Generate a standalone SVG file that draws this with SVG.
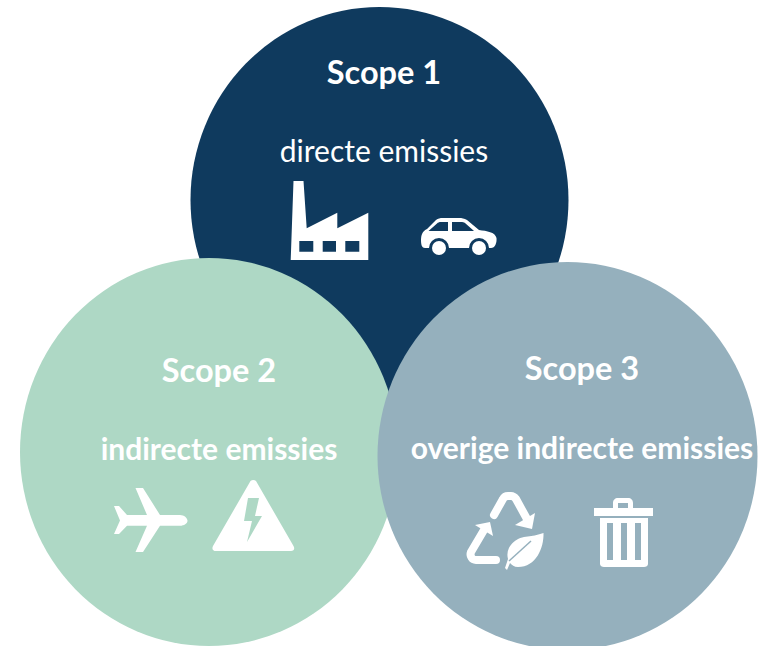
<svg xmlns="http://www.w3.org/2000/svg" width="769" height="646" viewBox="0 0 769 646">
<defs><filter id="soft" x="-10%" y="-10%" width="120%" height="120%"><feGaussianBlur stdDeviation="0.7"/></filter></defs>
<style>
.t{font-family:Lato,"Open Sans","Liberation Sans",sans-serif;fill:#fff;text-anchor:middle}
.h{font-size:32.500px;font-weight:700}
.s{font-size:30px}
.b{font-weight:700;font-size:30px}
.i{fill:#fff}
.l{fill:none;stroke:#fff;stroke-linecap:round;stroke-linejoin:round}
</style>
<rect width="769" height="646" fill="#fff"/>
<g id="scope1">
<ellipse cx="379.500" cy="200" rx="189" ry="193" fill="#0f3a5e"/>
<text class="t h" x="384" y="84">Scope 1</text>
<text class="t s" x="384" y="162">directe emissies</text>
<g filter="url(#soft)">
<path class="i" fill-rule="evenodd" d="M293.500 181H303.500L306.700 228.300L337.300 212.700V228.300L368.300 212.700V260H290.700ZM299.300 241V251.700H313.300V241ZM322.700 241V251.700H336V241ZM345.300 241V251.700H359.300V241Z"/>
<path class="i" fill-rule="evenodd" d="M421 240C421 234 423 231 427 229L436 220C438 218.500 440 218 443 218H459C462 218 464 218.500 467 220L479 230C487 231 495 232 496.500 238C497 243 495 248 491 248H489A10 10 0 0 0 469 248H449A10 10 0 0 0 429 248H425C422 248 421 245 421 240ZM428.500 231H448V222H441C439 222 438 222.500 437 223.500ZM452 222V231H474L465 223C464 222 462.500 222 461 222Z"/>
<circle class="i" cx="439" cy="248" r="7"/>
<circle class="i" cx="479" cy="248" r="7"/>
</g>
</g>
<g id="scope2">
<ellipse cx="209" cy="452" rx="189" ry="194" fill="#aed8c5"/>
<text class="t h" x="219" y="382">Scope 2</text>
<text class="t b" x="219" y="460">indirecte emissies</text>
<g filter="url(#soft)">
<path class="i" d="M187.500 520.700C187.500 523.500 184 525.700 180 525.700H160L143 552H135.500L147 525.700L127 525.700L119 534H114L120 520.500L114 506H119L127 515L147 515L135.500 488H143L160 515H180C184 515 187.500 518 187.500 520.700Z"/>
<path class="i" fill-rule="evenodd" d="M250.500 481C252 479.500 254.500 479.500 256 481L293.500 546C295 549 294 551 291 551H216C213 551 211.500 549 213 546ZM248 498L244 521H252L247 542L262 516H255L259 498Z"/>
</g>
</g>
<g id="scope3">
<ellipse cx="567.500" cy="456" rx="190" ry="194" fill="#95b0bd"/>
<text class="t h" x="582" y="380">Scope 3</text>
<text class="t b" x="582" y="459">overige indirecte emissies</text>
<g filter="url(#soft)">
<path class="l" stroke-width="8" d="M494 515L503 499C504 497 506 496 508 496H511C513 496 514.500 497 516 499L527 519"/>
<path class="i" d="M515 525L535 513L532 529Z"/>
<path class="l" stroke-width="8" d="M484 530L471 552C469.500 556 472 560 476 560H496"/>
<path class="i" d="M475 525L490 522L493 536Z"/>
<path class="i" d="M543.500 533C544 548 536 567 518 567C514 567 512 565 510 563L507 570L505 568L508 559C505 548 514 539 524 537C532 536 538 535 543.500 533Z"/>
<path fill="none" stroke="#95b0bd" stroke-width="1.500" d="M509 561L531 541"/>
<path class="i" fill-rule="evenodd" d="M594 508H613V503C613 500 615 498 618 498H628C631 498 633 500 633 503V508H653V516H594ZM618 503V508H628V503ZM600 518H648V564C648 566 646 567 644 567H604C602 567 600 566 600 564ZM607 523V560H613V523ZM621 523V560H627V523ZM635 523V560H641V523Z"/>
</g>
</g>
<g id="connectors"></g>
</svg>
